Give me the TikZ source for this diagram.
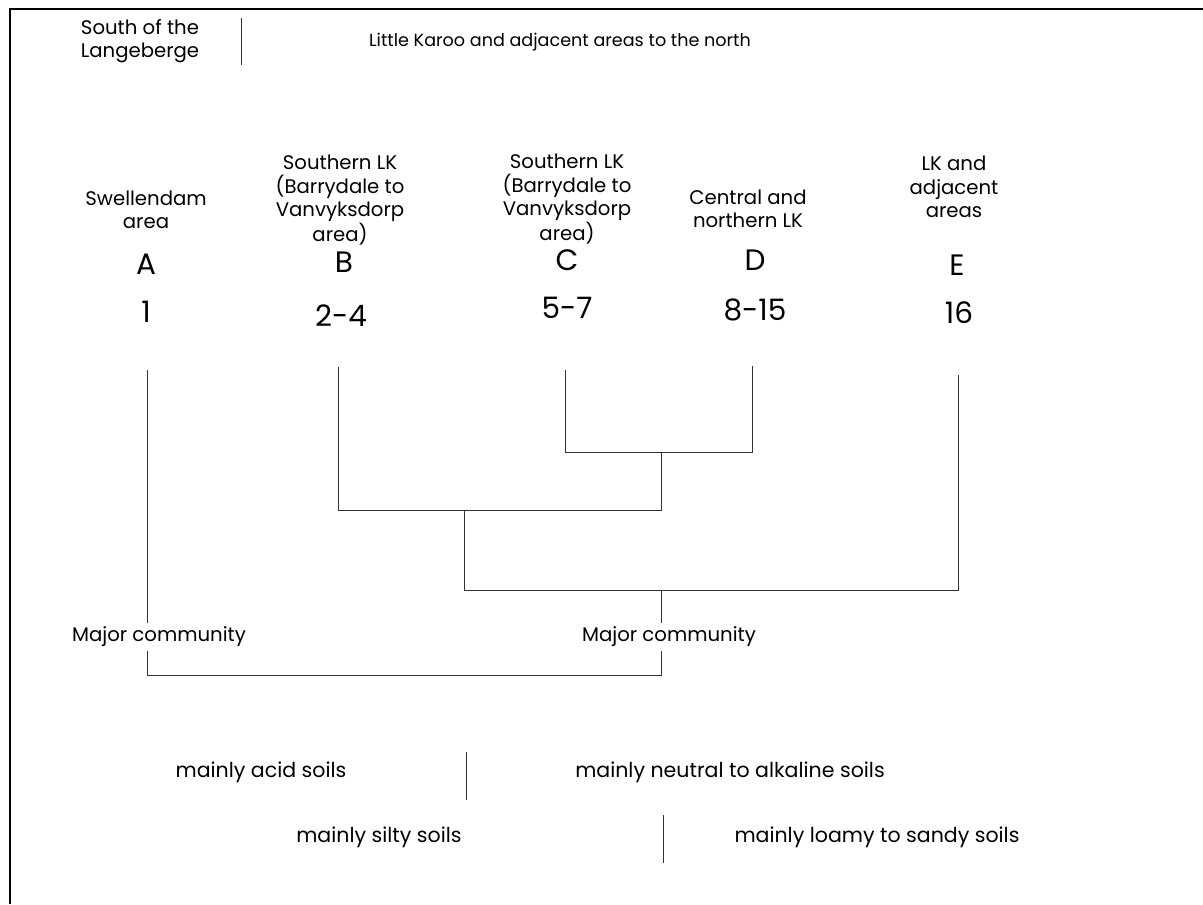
\documentclass[tikz,border=0pt]{standalone}
\usepackage{fontspec}
\setmainfont{Poppins}
\usepackage{tikz}
\usetikzlibrary{positioning,calc}
\tikzset{
  frame/.style={line width=2pt,black},
  branch/.style={line width=0.6pt,black!80},
  divider/.style={line width=0.6pt,black!80},
  lbl/.style={align=center,inner sep=1pt,font=\fontsize{14}{16.6}\selectfont},
  soil/.style={inner sep=1pt,font=\fontsize{14.6}{17}\selectfont},
  grp/.style={inner sep=1pt,font=\fontsize{21}{24}\selectfont},
  comm/.style={inner sep=3pt,fill=white,font=\fontsize{14}{16.6}\selectfont}
}

\begin{document}
\begin{tikzpicture}[x=0.025cm,y=-0.025cm]
\useasboundingbox (0,0) rectangle (1203,904);
\draw[frame] (10,904)--(10,9)--(1203,9);
% regions
\node[lbl] (south) at (140,41) {South of the\\Langeberge};
\draw[divider] (241,18)--(241,65);
\node[lbl,font=\fontsize{12.5}{15}\selectfont] (karoo) at (560,42) {Little Karoo and adjacent areas to the north};
% column headers
\node[lbl] (hA) at (146,210) {Swellendam\\area};
\node[lbl] (hB) at (340,200) {Southern LK\\(Barrydale to\\Vanvyksdorp\\area)};
\node[lbl] (hC) at (567,199) {Southern LK\\(Barrydale to\\Vanvyksdorp\\area)};
\node[lbl] (hD) at (748,209) {Central and\\northern LK};
\node[lbl] (hE) at (954,187) {LK and\\adjacent\\areas};
\node[grp] (gA) at (146,264) {A};
\node[grp] (gB) at (344,262) {B};
\node[grp] (gC) at (567,260) {C};
\node[grp] (gD) at (755,260) {D};
\node[grp] (gE) at (957,265) {E};
\node[grp] (nA) at (146,312) {1};
\node[grp] (nB) at (341,316) {2-4};
\node[grp] (nC) at (567,308) {5-7};
\node[grp] (nD) at (755,310) {8-15};
\node[grp] (nE) at (959,313) {16};
% dendrogram
\coordinate (tipA) at (147,370);
\coordinate (tipB) at (338,367);
\coordinate (tipC) at (565,370);
\coordinate (tipD) at (752,366);
\coordinate (tipE) at (958,375);
\coordinate (cd) at (661,452);
\coordinate (bcd) at (464,510);
\coordinate (bcde) at (661,590);
\coordinate (base) at (404,675);
\draw[branch] (tipC) |- (cd) -| (tipD);
\draw[branch] (tipB) |- (bcd) -| (cd);
\draw[branch] (bcd) |- (bcde) -| (tipE);
\draw[branch] (tipA) -- (tipA |- base);
\draw[branch] (bcde) -- (bcde |- base) -- (tipA |- base);
\node[comm] (mc1) at (159,637) {Major community};
\node[comm] (mc2) at (669,637) {Major community};
% soils
\node[soil] (acid) at (261,772) {mainly acid soils};
\draw[divider] (466,752)--(466,800);
\node[soil] (neutral) at (730,772) {mainly neutral to alkaline soils};
\node[soil] (silty) at (379,837) {mainly silty soils};
\draw[divider] (663,815)--(663,863);
\node[soil] (loamy) at (877,837) {mainly loamy to sandy soils};
\end{tikzpicture}
\end{document}
